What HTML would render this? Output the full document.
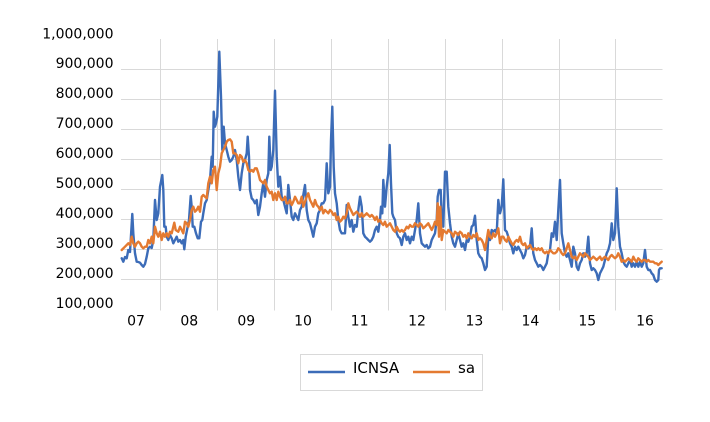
<!DOCTYPE html>
<html>
<head>
<meta charset="utf-8">
<style>
  html, body { margin: 0; padding: 0; background: #ffffff; }
  svg { display: block; }
  text { font-family: "DejaVu Sans", "Liberation Sans", sans-serif; fill: #000; }
</style>
</head>
<body>
<svg width="710" height="422" viewBox="0 0 710 422" xmlns="http://www.w3.org/2000/svg">
  <rect x="0" y="0" width="710" height="422" fill="#ffffff"/>
  <g stroke="#d9d9d9" stroke-width="1">
    <line x1="121" y1="69.5" x2="662.5" y2="69.5"/>
    <line x1="121" y1="99.5" x2="662.5" y2="99.5"/>
    <line x1="121" y1="129.5" x2="662.5" y2="129.5"/>
    <line x1="121" y1="159.5" x2="662.5" y2="159.5"/>
    <line x1="121" y1="189.5" x2="662.5" y2="189.5"/>
    <line x1="121" y1="219.5" x2="662.5" y2="219.5"/>
    <line x1="121" y1="249.5" x2="662.5" y2="249.5"/>
    <line x1="121" y1="279.5" x2="662.5" y2="279.5"/>
    <line x1="160.5" y1="39" x2="160.5" y2="310.5"/>
    <line x1="217.5" y1="39" x2="217.5" y2="310.5"/>
    <line x1="274.5" y1="39" x2="274.5" y2="310.5"/>
    <line x1="331.5" y1="39" x2="331.5" y2="310.5"/>
    <line x1="388.5" y1="39" x2="388.5" y2="310.5"/>
    <line x1="445.5" y1="39" x2="445.5" y2="310.5"/>
    <line x1="502.5" y1="39" x2="502.5" y2="310.5"/>
    <line x1="559.5" y1="39" x2="559.5" y2="310.5"/>
    <line x1="615.5" y1="39" x2="615.5" y2="310.5"/>
  </g>
  <g font-size="14" text-anchor="end">
    <text x="113.5" y="38.5">1,000,000</text>
    <text x="113.5" y="68">900,000</text>
    <text x="113.5" y="98">800,000</text>
    <text x="113.5" y="128">700,000</text>
    <text x="113.5" y="158">600,000</text>
    <text x="113.5" y="188">500,000</text>
    <text x="113.5" y="218">400,000</text>
    <text x="113.5" y="248">300,000</text>
    <text x="113.5" y="278">200,000</text>
    <text x="113.5" y="308">100,000</text>
  </g>
  <g font-size="14" text-anchor="middle">
    <text x="136" y="325.5">07</text>
    <text x="189.3" y="325.5">08</text>
    <text x="246.3" y="325.5">09</text>
    <text x="303" y="325.5">10</text>
    <text x="359.6" y="325.5">11</text>
    <text x="417" y="325.5">12</text>
    <text x="474.4" y="325.5">13</text>
    <text x="530.4" y="325.5">14</text>
    <text x="587.3" y="325.5">15</text>
    <text x="645" y="325.5">16</text>
  </g>
  <polyline fill="none" stroke="#3c6cb8" stroke-width="2.4" stroke-linejoin="round" stroke-linecap="round" points="121.7,258.3 123.3,261.7 125,257 126.7,258.3 128.3,250 130,252 132.3,214 133.3,233.3 135,253.3 136.7,261.7 138.3,262 140,262.7 141.7,265 143.3,266.7 145,264 146.7,256.7 148.3,248.3 150,246.7 151.7,248 153.3,240 155,200 156.7,220 158.3,213.3 160,186.7 162.3,175 163.3,190 164.3,226.7 165.7,226.7 166.7,236.7 168.3,240 170,235 171.7,238.3 173.3,243.3 175,240 176.7,236.7 178.3,241.7 180,240 181.7,243.3 183.3,240 184.3,249.3 185.7,236.7 187.7,226.7 189,220 190.7,196 191.7,206.7 192.7,226.7 194.3,226.7 196,233.3 197.7,238.3 199.3,238.3 201,221.7 202.3,220 203.3,213.3 205,203.3 206.7,200 208.3,190 210,180 211.7,156.7 212.7,166.7 213.7,111.7 215,126.7 216,123.3 217.3,116.7 219.3,51.7 221,96.7 222.3,150 223.7,126.7 225,143.3 226.7,150 228.3,156.7 230,161.7 231.7,160 233.3,156.7 235,150 236.7,160 238.3,176.7 240,190 241.7,173.3 243.3,163.3 245,160 246.7,153.3 247.7,136.7 249,156.7 250,190 251.7,198.3 253.3,200 255,203.3 256.7,200 258.3,215 260,206.7 261.7,193.3 263.3,183.3 265,196.7 266.7,180 268.3,173.3 269.3,136.7 270.7,170 271.7,166.7 273.3,150 275,90.7 276.7,156.7 278.3,186.7 280,176.7 281.7,196.7 283.3,200 285,206.7 286.7,213.3 288.3,185 290,200 291.7,216.7 293.3,220 295,213.3 296.7,216.7 298.3,220 300,210 301.7,206.7 303.3,195 305,185 306.7,210 308.3,220 310,223.3 311.7,230 313.3,236.7 315,226.7 316.7,223.3 318.3,213.3 320,210 321.7,203.3 323.3,203.3 325,200 326.7,163.3 328.3,193.3 330,186.7 331,140 332.3,106.7 333.7,166.7 335,193.3 336.7,203.3 338.3,220 340,230 341.7,233.3 343.3,233.3 345,233.3 346.7,205 348.3,216.7 350,226.7 351.7,220 353.3,231.7 355,225 356.7,226.7 358.3,210 360,196.7 361.7,206.7 363.3,233.3 365,236.7 366.7,238.3 368.3,240 370,241.7 371.7,240 373.3,236.7 375,230 376.7,226.7 378.3,231.7 380,220 381,206.7 382.3,213.3 383.3,180 385,206.7 386.7,186.7 388.3,173.3 389.7,145 391,183.3 392.3,213.3 393.3,216.7 395,220 396.7,233.3 398.3,236.7 400,238.3 401.7,245 403.3,236.7 405,233.3 406.7,240 408.3,236.7 410,243.3 411.7,236.7 413.3,240 415,230 416.7,220 418.3,203.3 420,233.3 421.7,243.3 423.3,245 425,246.7 426.7,245 428.3,248.3 430,246.7 431.7,240 433.3,236.7 435,233.3 436.7,220 437.7,196.7 439,190 440.7,190 441.7,216.7 443.3,226.7 445,171.7 446.7,171.7 448.3,206.7 450,223.3 451.7,236.7 453.3,243.3 455,246.7 456.7,240 458.3,233.3 460,240 461.7,246.7 463.3,243.3 465,250 466.7,240 468.3,241.7 470,236.7 471.7,226.7 473.3,225 475,215.7 476.7,240 478.3,253.3 480,256.7 481.7,258.3 483.3,263.3 485,270 486.7,266.7 488.3,236.7 490,240 491.7,230 493.3,231.7 495,230 496.7,233.3 498.3,200 500,213.3 501.7,206.7 503.3,179.3 505,230 506.7,231.7 508.3,236.7 510,243.3 511.7,246.7 513.3,253.3 515,246.7 516.7,250 518.3,246.7 520,250 521.7,253.3 523.3,258.3 525,255 526.7,246.7 528.3,248.3 530,246.7 531.7,228.3 533.3,253.3 535,260 536.7,263.3 538.3,266.7 540,265 541.7,266.7 543.3,270 545,266.7 546.7,263.3 548.3,253.3 550,250 551.7,233.3 553.3,236.7 555,221.7 556.7,240 558.3,210 560,180 561.7,233.3 563.3,243.3 565,253.3 566.7,256.7 568.3,253.3 570,260 571.7,266.7 573.3,246.7 575,253.3 576.7,266.7 578.3,270 580,263.3 581.7,260 583.3,253.3 585,256.7 586.7,253.3 588.3,236.7 590,263.3 591.7,270 593.3,268.3 595,270 596.7,273.3 598.3,280 600,273.3 601.7,270 603.3,266.7 605,260 606.7,253.3 608.3,250 610,243.3 611.7,223.3 613.3,240 615,233.3 616.7,188.3 618.3,226.7 620,246.7 621.7,253.3 623.3,261.7 625,265 626.7,266.7 628.3,263.3 630,260 631.7,266.7 633.3,263.3 635,266.7 636.7,261.7 638.3,266.7 640,261.7 641.7,266.7 643.3,263.3 645,250 646.7,266.7 648.3,270 650,270 651.7,273.3 653.3,275 655,280 656.7,281.7 658.3,280 659,270 660,268.3 661.7,268.3"/>
  <polyline fill="none" stroke="#e47a31" stroke-width="2.4" stroke-linejoin="round" stroke-linecap="round" points="121.7,250 125,246.7 128.3,243.3 130,245 131.7,236.7 133.3,243.3 135,246.7 136.7,243.3 138.3,241.7 140,243.3 141.7,246.7 143.3,248.3 145,246.7 146.7,246.7 148.3,240 150,243.3 151.7,236.7 153.3,243.3 155,226.7 156.7,233.3 158.3,236.7 160,231.7 161.7,240 163.3,233.3 165,236.7 166.7,233.3 168.3,236.7 170,231.7 171.7,233.3 174.3,222.7 175.7,230 178.3,231.7 180,226.7 181.7,230 183.3,233.3 185,221.7 186.7,223.3 188.3,226.7 190,220 191.7,210 193.3,206.7 195,211.7 196.7,210 198.3,206.7 200,211.7 201.7,196.7 203.3,195 205,196.7 206.7,198.3 208.3,183.3 210,176.7 211.7,183.3 213.3,170 215,166.7 216.7,190 218.3,173.3 220,166.7 221.7,153.3 223.3,150 225,146.7 226.7,141.7 228.3,140 230,139.3 231.7,141.7 233.3,153.3 235,153.3 236.7,155 238.3,163.3 240,155 241.7,156.7 243.3,161.7 245,160 246.7,163.3 248.3,170 250,171.7 251.7,170 253.3,171.7 255,168.3 256.7,168.3 258.3,173.3 260,180 261.7,181.7 263.3,183.3 265,180 266.7,186.7 268.3,190 270,193.3 271.7,191.7 273.3,200 275,193.3 276.7,200 278.3,191.7 280,196.7 281.7,200 283.3,200 285,196.7 286.7,203.3 288.3,203.3 290,200 291.7,205 293.3,201.7 295,196.7 296.7,200 298.3,203.3 300,203.3 301.7,196.7 303.3,206.7 305,201.7 306.7,196.7 308.3,193.3 310,200 311.7,203.3 313.3,206.7 315,200 316.7,205 318.3,206.7 320,210 321.7,206.7 323.3,213.3 325,210 326.7,211.7 328.3,213.3 330,210 331.7,211.7 333.3,215 335,213.3 336.7,220 338.3,216.7 340,221.7 341.7,220 343.3,216.7 345,218.3 346.7,213.3 348.3,203.3 350,208.3 351.7,211.7 353.3,215 355,213.3 356.7,211.7 358.3,213.3 360,216.7 361.7,213.3 363.3,216.7 365,215 366.7,213.3 368.3,215 370,216.7 371.7,215 373.3,216.7 375,220 376.7,216.7 378.3,221.7 380,220 381.7,223.3 383.3,225 385,221.7 386.7,226.7 388.3,225 390,223.3 391.7,226.7 393.3,230 395,231.7 396.7,226.7 398.3,230 400,231.7 401.7,230 403.3,231.7 405,230 406.7,226.7 408.3,228.3 410,225 411.7,226.7 413.3,226.7 415,223.3 416.7,225 418.3,226.7 420,223.3 421.7,225 423.3,228.3 425,226.7 426.7,225 428.3,223.3 430,226.7 431.7,230 433.3,226.7 435,221.7 436.7,225 437.7,203.3 439,236.7 440.3,206.7 441.7,240 443.3,230 445,231.7 446.7,233.3 448.3,230 450,231.7 451.7,233.3 453.3,236.7 455,231.7 456.7,233.3 458.3,235 460,231.7 461.7,233.3 463.3,236.7 465,235 466.7,238.3 468.3,233.3 470,236.7 471.7,238.3 473.3,235 475,236.7 476.7,233.3 478.3,240 480,238.3 481.7,240 483.3,243.3 485,250 486.7,240 488.3,230 490,236.7 491.7,238.3 493.3,233.3 495,236.7 496.7,233.3 498.3,228.3 500,243.3 501.7,236.7 503.3,236.7 505,240 506.7,241.7 508.3,236.7 510,240 511.7,243.3 513.3,245 515,241.7 516.7,240 518.3,241.7 520,236.7 521.7,243.3 523.3,245 525,243.3 526.7,248.3 528.3,246.7 530,245 531.7,248.3 533.3,250 535,248.3 536.7,250 538.3,248.3 540,250 541.7,248.3 543.3,251.7 545,253.3 546.7,251.7 548.3,253.3 550,250 551.7,251.7 553.3,253.3 555,253.3 556.7,251.7 558.3,248.3 560,250 561.7,253.3 563.3,255 565,253.3 566.7,248.3 568.3,243.3 570,250 571.7,256.7 573.3,258.3 575,256.7 576.7,260 578.3,256.7 580,253.3 581.7,255 583.3,256.7 585,253.3 586.7,255 588.3,256.7 590,260 591.7,258.3 593.3,256.7 595,258.3 596.7,260 598.3,258.3 600,256.7 601.7,260 603.3,258.3 605,256.7 606.7,258.3 608.3,260 610,256.7 611.7,255 613.3,256.7 615,258.3 616.7,256.7 618.3,253.3 620,256.7 621.7,261.7 623.3,260 625,261.7 626.7,260 628.3,258.3 630,260 631.7,261.7 633.3,256.7 635,260 636.7,261.7 638.3,258.3 640,260 641.7,261.7 643.3,260 645,260 646.7,261.7 648.3,260 650,261.7 651.7,261.7 653.3,261.7 655,263.3 656.7,263.3 658.3,265 660,263.3 661.7,261.7"/>
  <rect x="300.5" y="354.5" width="182" height="36" fill="#ffffff" stroke="#d9d9d9" stroke-width="1"/>
  <line x1="308" y1="372" x2="345" y2="372" stroke="#3c6cb8" stroke-width="2.5"/>
  <text x="353" y="373" font-size="15">ICNSA</text>
  <line x1="413" y1="372" x2="450" y2="372" stroke="#e47a31" stroke-width="2.5"/>
  <text x="458" y="373" font-size="15">sa</text>
</svg>
</body>
</html>
